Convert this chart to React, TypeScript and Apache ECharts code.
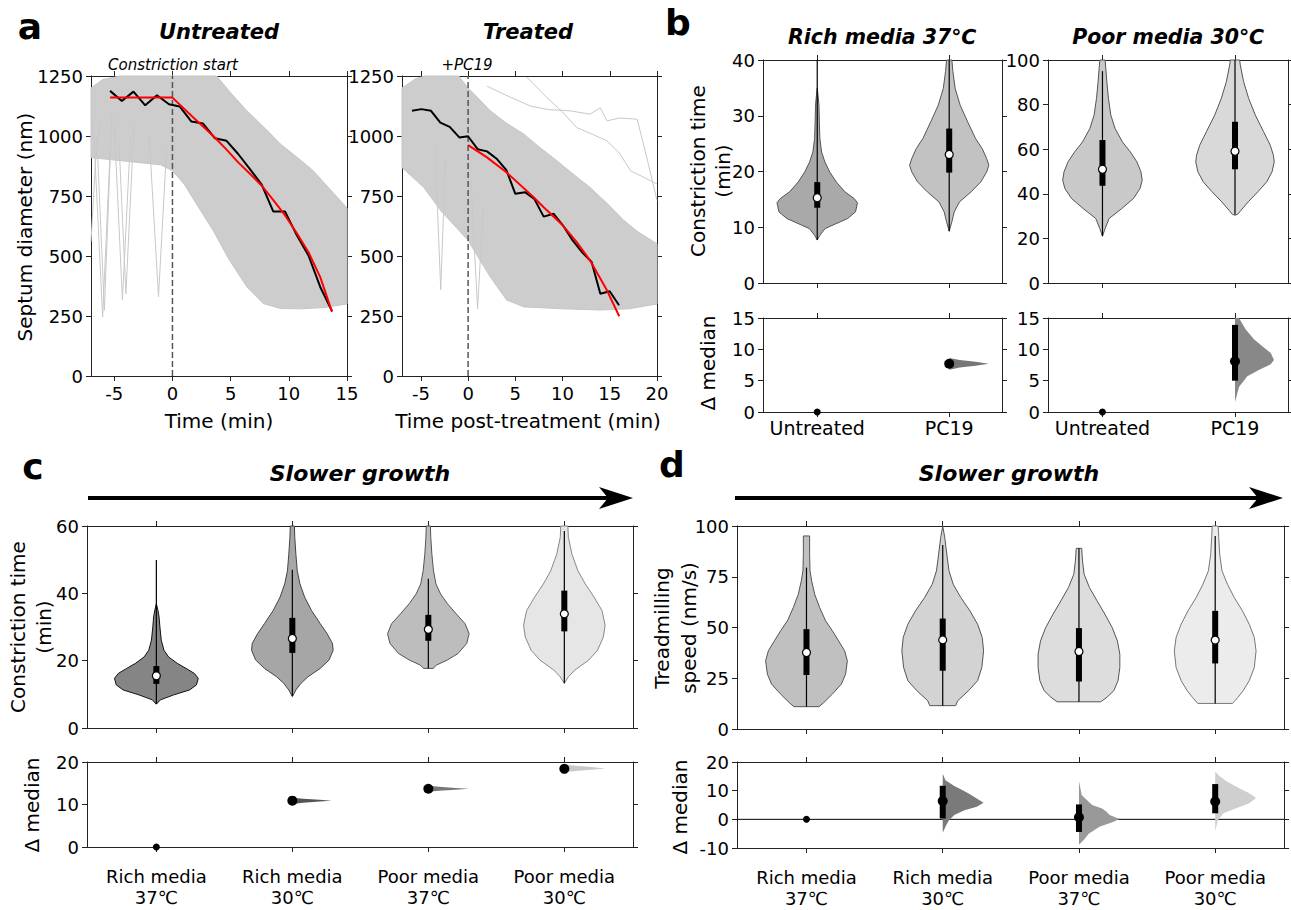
import React, { useEffect, useRef } from "react";
import * as echarts from "echarts";

const FONT = '"DejaVu Sans", Verdana, sans-serif';
const AX = "#222";

// ---------------- Panel a : septum diameter traces ----------------
const aUntreatedBandUpper = [[-7, 1200], [-6, 1235], [-4.5, 1250], [3.8, 1250], [5, 1180], [6.4, 1105], [8, 1030], [9.3, 966], [11, 900], [12.1, 855], [13.5, 780], [15, 700]];
const aUntreatedBandLower = [[-7, 910], [-5, 900], [-3, 890], [-1, 880], [0, 855], [1, 800], [2.06, 717], [3.5, 606], [4.9, 482], [6.4, 371], [7.8, 302], [9.3, 281], [11, 280], [13, 285], [15, 300]];
const aUntreatedOutliers = [
  [[-6.8, 1050], [-6.0, 246], [-5.3, 1000]],
  [[-6.5, 1000], [-5.85, 274], [-5.2, 1100]],
  [[-5.0, 1050], [-4.3, 316], [-3.6, 1000]],
  [[-4.6, 980], [-4.0, 343], [-3.3, 1050]],
  [[-2.0, 1000], [-1.2, 330], [-0.5, 950]],
  [[-7, 560], [-6.6, 900], [-6.2, 1050]],
];
const aUntreatedTime = [-5.36, -4.35, -3.35, -2.34, -1.33, -0.3, 0.62, 1.63, 2.63, 3.64, 4.65, 5.65, 6.66, 7.67, 8.67, 9.68, 10.69, 11.69, 12.7, 13.71];
const aUntreatedDiameter = [1188, 1146, 1185, 1128, 1170, 1132, 1123, 1060, 1052, 991, 980, 925, 862, 797, 685, 685, 586, 502, 371, 271];
const aUntreatedFitTime = [-5.36, 0, 1.63, 2.63, 3.64, 4.65, 5.65, 6.66, 7.67, 8.67, 9.68, 10.69, 11.69, 12.7, 13.71];
const aUntreatedFit = [1160, 1160, 1084, 1040, 994, 943, 890, 843, 793, 733, 669, 595, 516, 412, 267];

const aTreatedBandUpper = [[-7, 1200], [-5.5, 1240], [-4.5, 1250], [-1, 1250], [0, 1200], [1, 1160], [2.35, 1105], [4, 1055], [5.9, 1008], [7.5, 955], [9.4, 897], [11, 845], [12.9, 786], [14.7, 720], [16.5, 648], [18, 600], [20, 551]];
const aTreatedBandLower = [[-7, 869], [-4.7, 786], [-2.9, 689], [0, 565], [2.35, 412], [4.1, 316], [5.9, 288], [10, 280], [14, 275], [17, 280], [20, 300]];
const aTreatedOutliers = [
  [[2.0, 1208], [4, 1170], [6.6, 1125], [8.5, 1110], [10.8, 1105], [12.9, 1091], [14.0, 1118], [14.7, 1063], [16, 1075], [17.9, 1070], [19.0, 897], [20, 731]],
  [[6.2, 1246], [8.35, 1160], [10, 1100], [11.5, 1035], [13, 1010], [14.7, 980], [16, 930], [17.2, 855], [18.5, 830], [20, 800]],
  [[-3.5, 950], [-2.9, 360], [-2.4, 900]],
  [[0.3, 820], [1.0, 280], [1.6, 700]],
];
const aTreatedTime = [-5.94, -4.95, -3.93, -2.94, -1.95, -0.93, -0.01, 1.01, 2.0, 3.06, 4.05, 5.0, 6.02, 7.01, 8.0, 9.06, 10.05, 11.07, 12.06, 13.08, 14.0, 14.99, 15.98];
const aTreatedDiameter = [1105, 1112, 1105, 1056, 1038, 994, 999, 945, 936, 904, 858, 759, 766, 738, 664, 676, 627, 565, 516, 475, 343, 353, 295];
const aTreatedFitTime = [0, 2, 4.05, 6.94, 8, 10.05, 11.5, 12.9, 14.7, 16.0];
const aTreatedFit = [962, 911, 849, 745, 703, 627, 558, 482, 357, 249];

// ---------------- Panel b : constriction time, untreated vs PC19 ----------------
const bCategories = ["Untreated", "PC19"];
const bRichUntreatedProfile = [[7.7, 0], [8.56, 0.02], [9.76, 0.06], [10.4, 0.12], [11.56, 0.23], [12.75, 0.29], [14.4, 0.305], [15.15, 0.28], [16.35, 0.21], [18.1, 0.145], [19.9, 0.095], [21.7, 0.058], [23.5, 0.033], [25.9, 0.02], [28.9, 0.016], [31.9, 0.013], [33.7, 0.006], [35, 0]];
const bRichPC19Profile = [[9.3, 0], [10.96, 0.02], [12.75, 0.038], [14.55, 0.078], [16.35, 0.166], [18.14, 0.24], [19.94, 0.284], [21.1, 0.3], [22.3, 0.284], [24.1, 0.25], [25.9, 0.2], [28.9, 0.14], [31.9, 0.083], [34.9, 0.045], [37.9, 0.028], [40, 0.02]];
// [whisker low, q1, median, q3, whisker high]
const bRichStats = [[7.7, 13.5, 15.3, 18.1, 40], [9.3, 19.8, 23.05, 27.7, 40]];
const bPoorUntreatedProfile = [[21, 0], [24.4, 0.02], [28.9, 0.05], [33.4, 0.146], [37.9, 0.234], [42.4, 0.284], [46.1, 0.3], [49.9, 0.29], [54.3, 0.26], [58.8, 0.21], [63.3, 0.15], [69.3, 0.095], [75.3, 0.063], [82.8, 0.045], [90.3, 0.033], [96.3, 0.025], [100, 0.02]];
const bPoorPC19Profile = [[30.4, 0], [30.8, 0.02], [32.6, 0.045], [36.4, 0.1], [40.9, 0.173], [45.4, 0.24], [49.9, 0.28], [54.3, 0.296], [57.3, 0.29], [61.8, 0.266], [67.8, 0.216], [75.3, 0.153], [82.8, 0.103], [90.3, 0.065], [97.8, 0.04], [100, 0.035]];
const bPoorStats = [[21, 43.6, 51.0, 64.1, 95], [30.7, 51.0, 59.1, 72.3, 100]];
const bRichDeltaMedian = [0, 7.7];
const bRichDeltaCI = [[0, 0], [7.2, 8.3]];
const bRichDeltaProfile = [[6.75, 0], [7.1, 0.08], [7.4, 0.2], [7.7, 0.3], [8.0, 0.2], [8.3, 0.08], [8.6, 0]];
const bPoorDeltaMedian = [0, 8.1];
const bPoorDeltaCI = [[0, 0], [5.0, 13.9]];
const bPoorDeltaProfile = [[1.6, 0], [4.0, 0.03], [5.7, 0.093], [6.7, 0.18], [7.6, 0.27], [8.3, 0.294], [9.4, 0.27], [10.5, 0.206], [11.6, 0.143], [13.2, 0.08], [15, 0.03]];

// ---------------- Panels c & d : growth conditions ----------------
const growthCategories = ["Rich media\n37℃", "Rich media\n30℃", "Poor media\n37℃", "Poor media\n30℃"];
const cProfileRich37 = [[7.08, 0], [8.36, 0.03], [9.84, 0.128], [11.3, 0.244], [12.8, 0.295], [14.75, 0.308], [16.2, 0.28], [17.7, 0.218], [19.2, 0.154], [21.1, 0.09], [23.1, 0.056], [26.1, 0.036], [30, 0.026], [33, 0.02], [34.9, 0.012], [36.9, 0]];
const cProfileRich30 = [[9.3, 0], [11.3, 0.026], [13.3, 0.064], [15.2, 0.115], [17.7, 0.205], [20.2, 0.27], [23.1, 0.3], [25.1, 0.295], [28.0, 0.256], [31.0, 0.205], [34.9, 0.141], [38.9, 0.09], [42.8, 0.056], [46.7, 0.036], [51.6, 0.026], [56.6, 0.018], [60, 0.015]];
const cProfilePoor37 = [[17.7, 0.035], [18.7, 0.06], [20.2, 0.14], [22.1, 0.218], [25.1, 0.282], [28.0, 0.3], [31.0, 0.27], [33.9, 0.205], [36.9, 0.141], [39.8, 0.09], [42.8, 0.056], [46.7, 0.038], [51.6, 0.026], [56.6, 0.018], [60, 0.015]];
const cProfilePoor30 = [[13.3, 0], [15.2, 0.03], [17.2, 0.077], [20.2, 0.18], [23.1, 0.244], [27.0, 0.287], [30.5, 0.3], [34.9, 0.277], [38.9, 0.218], [42.8, 0.154], [46.7, 0.1], [51.6, 0.056], [56.6, 0.03], [60, 0.026]];
const cStats = [[7.1, 13.1, 15.5, 18.4, 49.9], [9.5, 22.3, 26.6, 32.7, 47], [17.7, 25.9, 29.3, 33.6, 44.3], [13.3, 28.7, 33.9, 40.8, 58.5]];
const cDeltaMedian = [0, 10.9, 13.7, 18.4];
const cDeltaCI = [[0, 0], [10.6, 11.2], [13.4, 14.0], [17.9, 19.0]];
const cDeltaRich30 = [[10.1, 0], [10.4, 0.08], [10.7, 0.2], [10.9, 0.29], [11.1, 0.2], [11.35, 0.08], [11.6, 0]];
const cDeltaPoor37 = [[13.0, 0], [13.25, 0.08], [13.5, 0.2], [13.7, 0.3], [13.9, 0.2], [14.15, 0.08], [14.4, 0]];
const cDeltaPoor30 = [[17.6, 0], [17.9, 0.08], [18.2, 0.2], [18.45, 0.3], [18.8, 0.2], [19.1, 0.08], [19.5, 0]];

const dProfileRich37 = [[11.0, 0.092], [13.1, 0.128], [17.2, 0.19], [22.1, 0.256], [27.0, 0.287], [33.6, 0.3], [38.5, 0.28], [43.4, 0.236], [48.4, 0.19], [53.3, 0.14], [59.8, 0.097], [66.4, 0.06], [72.95, 0.038], [77.9, 0.026], [86.1, 0.023], [95.1, 0.023]];
const dProfileRich30 = [[11.5, 0.095], [13.9, 0.11], [18.9, 0.19], [23.8, 0.256], [30.3, 0.287], [38.5, 0.3], [45.1, 0.29], [51.6, 0.256], [58.2, 0.2], [64.75, 0.133], [71.3, 0.077], [77.9, 0.046], [86.1, 0.03], [94.3, 0.015], [100, 0]];
const dProfilePoor37 = [[13.4, 0.16], [15.6, 0.205], [18.9, 0.256], [23.8, 0.287], [30.3, 0.3], [36.9, 0.3], [43.4, 0.282], [50.0, 0.244], [56.6, 0.19], [63.1, 0.133], [69.7, 0.077], [76.2, 0.038], [82.8, 0.026], [89.0, 0.02]];
const dProfilePoor30 = [[12.6, 0.128], [15.6, 0.167], [18.85, 0.205], [23.8, 0.25], [30.3, 0.287], [38.5, 0.3], [45.1, 0.287], [51.6, 0.25], [58.2, 0.2], [64.75, 0.14], [71.3, 0.09], [77.9, 0.05], [86.1, 0.033], [94.3, 0.026], [100, 0.022]];
const dStats = [[11.0, 26.6, 37.7, 49.2, 79.5], [11.5, 28.7, 43.9, 54.4, 90.7], [13.4, 23.4, 38.2, 49.7, 89], [12.6, 32.3, 43.8, 58.2, 95.1]];
const dDeltaMedian = [0, 6.4, 0.7, 6.2];
const dDeltaCI = [[0, 0], [0.3, 11.7], [-4.4, 5.2], [2.1, 12.3]];
const dDeltaRich30 = [[-4.7, 0], [-2.0, 0.026], [-0.3, 0.046], [1.5, 0.085], [3.2, 0.16], [4.4, 0.25], [5.8, 0.3], [7.3, 0.25], [9.1, 0.187], [10.4, 0.136], [11.6, 0.085], [13.6, 0.02], [15.9, 0]];
const dDeltaPoor37 = [[-8.9, 0], [-7.3, 0.033], [-5.0, 0.072], [-2.6, 0.15], [-0.9, 0.25], [0.1, 0.297], [1.5, 0.226], [2.7, 0.2], [3.8, 0.17], [5.0, 0.097], [7.3, 0.046], [8.5, 0.02], [10.9, 0.01], [13.4, 0]];
const dDeltaPoor30 = [[-4.2, 0], [-0.3, 0.02], [2.1, 0.06], [3.8, 0.15], [5.6, 0.25], [7.4, 0.3], [9.1, 0.25], [10.9, 0.174], [13.2, 0.085], [15.0, 0.033], [16.7, 0]];

// ---------------- helpers ----------------
const TICK_FONT = 18;
const NAME_FONT = 20;

function xPair(gi: number, min: number, max: number, ticks: number[], fmt?: (v: number) => string, extra: any = {}) {
  const mk = (pos: string, show: boolean) => ({
    type: "value", gridIndex: gi, min, max, position: pos,
    axisLine: { show: true, onZero: false, lineStyle: { color: AX, width: 1 } },
    axisTick: { show: true, length: 5, customValues: ticks, lineStyle: { color: AX } },
    axisLabel: { show, customValues: ticks, formatter: fmt, fontFamily: FONT, fontSize: TICK_FONT, color: "#000", margin: 8, ...extra },
    splitLine: { show: false },
  });
  return [mk("bottom", !!fmt), mk("top", false)];
}
function yPair(gi: number, min: number, max: number, interval: number) {
  const mk = (pos: string, show: boolean) => ({
    type: "value", gridIndex: gi, min, max, interval, position: pos,
    axisLine: { show: true, onZero: false, lineStyle: { color: AX, width: 1 } },
    axisTick: { show: true, length: 5, lineStyle: { color: AX } },
    axisLabel: { show, formatter: (v: number) => String(v), fontFamily: FONT, fontSize: TICK_FONT, color: "#000", margin: 8 },
    splitLine: { show: false },
  });
  return [mk("left", true), mk("right", false)];
}
function bandSeries(gi: number, upper: number[][], lower: number[][]) {
  const pts = upper.concat(lower.slice().reverse());
  return {
    type: "custom", xAxisIndex: 2 * gi, yAxisIndex: 2 * gi, z: 1, silent: true,
    data: [[0, 600]],
    renderItem: (_p: any, api: any) => ({
      type: "polygon",
      shape: { points: pts.map((p) => api.coord(p)) },
      style: { fill: "#cdcdcd", stroke: "#c6c6c6", lineWidth: 1 },
    }),
  };
}
function lineSeries(gi: number, data: number[][], color: string, width: number, z: number, type = "solid") {
  return {
    type: "line", xAxisIndex: 2 * gi, yAxisIndex: 2 * gi, data, symbol: "none", silent: true, z,
    lineStyle: { color, width, type }, animation: false,
  };
}
function violinSeries(gi: number, profiles: number[][][], stats: number[][], fills: string[], strokes: string[]) {
  return {
    type: "custom", xAxisIndex: 2 * gi, yAxisIndex: 2 * gi, z: 3, silent: true,
    data: stats.map((s, i) => [i, s[2]]),
    renderItem: (params: any, api: any) => {
      const i = params.dataIndex;
      const prof = profiles[i];
      const left = prof.map(([y, w]) => api.coord([i - w, y]));
      const right = prof.slice().reverse().map(([y, w]) => api.coord([i + w, y]));
      const s = stats[i];
      const lo = api.coord([i, s[0]]), q1 = api.coord([i, s[1]]), med = api.coord([i, s[2]]), q3 = api.coord([i, s[3]]), hi = api.coord([i, s[4]]);
      return {
        type: "group",
        children: [
          { type: "polygon", shape: { points: left.concat(right) }, style: { fill: fills[i], stroke: strokes[i], lineWidth: 1 } },
          { type: "line", shape: { x1: lo[0], y1: lo[1], x2: hi[0], y2: hi[1] }, style: { stroke: "#000", lineWidth: 1.2 } },
          { type: "line", shape: { x1: q1[0], y1: q1[1], x2: q3[0], y2: q3[1] }, style: { stroke: "#000", lineWidth: 6 } },
          { type: "circle", shape: { cx: med[0], cy: med[1], r: 4 }, style: { fill: "#fff", stroke: "#000", lineWidth: 1.2 } },
        ],
      };
    },
  };
}
function deltaSeries(gi: number, profiles: (number[][] | null)[], medians: number[], cis: number[][], fills: string[]) {
  return {
    type: "custom", xAxisIndex: 2 * gi, yAxisIndex: 2 * gi, z: 3, silent: true,
    data: medians.map((m, i) => [i, m]),
    renderItem: (params: any, api: any) => {
      const i = params.dataIndex;
      const prof = profiles[i];
      const m = api.coord([i, medians[i]]);
      if (!prof) {
        return { type: "circle", shape: { cx: m[0], cy: m[1], r: 3.5 }, style: { fill: "#000" } };
      }
      const pts = prof.map(([y, w]) => api.coord([i + w, y]));
      pts.push(api.coord([i, prof[prof.length - 1][0]]));
      pts.push(api.coord([i, prof[0][0]]));
      const c0 = api.coord([i, cis[i][0]]), c1 = api.coord([i, cis[i][1]]);
      return {
        type: "group",
        children: [
          { type: "polygon", shape: { points: pts }, style: { fill: fills[i] } },
          { type: "line", shape: { x1: c0[0], y1: c0[1], x2: c1[0], y2: c1[1] }, style: { stroke: "#000", lineWidth: 6 } },
          { type: "circle", shape: { cx: m[0], cy: m[1], r: 5 }, style: { fill: "#000" } },
        ],
      };
    },
  };
}
function txt(text: string, x: number, y: number, size: number, opts: any = {}) {
  const { rotation, ...style } = opts;
  return {
    type: "text", x, y, rotation: rotation || 0, silent: true,
    style: { text, fontFamily: FONT, fontSize: size, fill: "#000", align: "center", verticalAlign: "middle", ...style },
  };
}
function arrow(x1: number, x2: number, y: number) {
  return [
    { type: "line", shape: { x1, y1: y, x2: x2 - 20, y2: y }, style: { stroke: "#000", lineWidth: 4 } },
    { type: "polygon", shape: { points: [[x2 - 34, y - 11], [x2, y], [x2 - 34, y + 11], [x2 - 25, y]] }, style: { fill: "#000" } },
  ];
}

function buildOption() {
  const grids = [
    { left: 91, top: 76, width: 256, height: 300 },
    { left: 402, top: 76, width: 255, height: 300 },
    { left: 763, top: 60, width: 239, height: 223 },
    { left: 763, top: 318, width: 239, height: 94 },
    { left: 1048, top: 60, width: 240, height: 223 },
    { left: 1048, top: 318, width: 240, height: 94 },
    { left: 87, top: 526, width: 546, height: 202 },
    { left: 87, top: 762, width: 546, height: 85 },
    { left: 737, top: 526, width: 547, height: 203 },
    { left: 737, top: 762, width: 547, height: 86 },
  ];
  const num = (v: number) => String(v);
  const bName = (v: number) => bCategories[Math.round(v)];
  const gName = (v: number) => growthCategories[Math.round(v)];
  const gTicks = [0, 1, 2, 3];
  const xAxis = [
    ...xPair(0, -7, 15, [-5, 0, 5, 10, 15], num),
    ...xPair(1, -7, 20, [-5, 0, 5, 10, 15, 20], num),
    ...xPair(2, -0.411, 1.4, [0, 1]),
    ...xPair(3, -0.411, 1.4, [0, 1], bName, { fontSize: 19, margin: 6 }),
    ...xPair(4, -0.411, 1.4, [0, 1]),
    ...xPair(5, -0.411, 1.4, [0, 1], bName, { fontSize: 19, margin: 6 }),
    ...xPair(6, -0.51, 3.505, gTicks),
    ...xPair(7, -0.51, 3.505, gTicks, gName, { fontSize: 18, margin: 19, lineHeight: 21 }),
    ...xPair(8, -0.51, 3.505, gTicks),
    ...xPair(9, -0.51, 3.505, gTicks, gName, { fontSize: 18, margin: 19, lineHeight: 21 }),
  ];
  const yAxis = [
    ...yPair(0, 0, 1250, 250),
    ...yPair(1, 0, 1250, 250),
    ...yPair(2, 0, 40, 10),
    ...yPair(3, 0, 15, 5),
    ...yPair(4, 0, 100, 20),
    ...yPair(5, 0, 15, 5),
    ...yPair(6, 0, 60, 20),
    ...yPair(7, 0, 20, 10),
    ...yPair(8, 0, 100, 25),
    ...yPair(9, -10, 20, 10),
  ];
  const zip = (xs: number[], ys: number[]) => xs.map((x, i) => [x, ys[i]]);
  const series: any[] = [
    bandSeries(0, aUntreatedBandUpper, aUntreatedBandLower),
    ...aUntreatedOutliers.map((d) => lineSeries(0, d, "#c8c8c8", 1, 2)),
    lineSeries(0, [[0, 0], [0, 1250]], "#555", 1.5, 4, "dashed"),
    lineSeries(0, zip(aUntreatedTime, aUntreatedDiameter), "#000", 2, 5),
    lineSeries(0, zip(aUntreatedFitTime, aUntreatedFit), "#ff0000", 2, 6),
    bandSeries(1, aTreatedBandUpper, aTreatedBandLower),
    ...aTreatedOutliers.map((d) => lineSeries(1, d, "#c8c8c8", 1, 2)),
    lineSeries(1, [[0, 0], [0, 1250]], "#555", 1.5, 4, "dashed"),
    lineSeries(1, zip(aTreatedTime, aTreatedDiameter), "#000", 2, 5),
    lineSeries(1, zip(aTreatedFitTime, aTreatedFit), "#ff0000", 2, 6),
    violinSeries(2, [bRichUntreatedProfile, bRichPC19Profile], bRichStats, ["#a9a9a9", "#c2c2c2"], ["#555", "#555"]),
    deltaSeries(3, [null, bRichDeltaProfile], bRichDeltaMedian, bRichDeltaCI, ["#000", "#777"]),
    violinSeries(4, [bPoorUntreatedProfile, bPoorPC19Profile], bPoorStats, ["#c9c9c9", "#d9d9d9"], ["#555", "#555"]),
    deltaSeries(5, [null, bPoorDeltaProfile], bPoorDeltaMedian, bPoorDeltaCI, ["#000", "#888"]),
    violinSeries(6, [cProfileRich37, cProfileRich30, cProfilePoor37, cProfilePoor30], cStats, ["#858585", "#a6a6a6", "#bdbdbd", "#e6e6e6"], ["#111", "#444", "#555", "#888"]),
    deltaSeries(7, [null, cDeltaRich30, cDeltaPoor37, cDeltaPoor30], cDeltaMedian, cDeltaCI, ["#000", "#555", "#777", "#c8c8c8"]),
    violinSeries(8, [dProfileRich37, dProfileRich30, dProfilePoor37, dProfilePoor30], dStats, ["#c0c0c0", "#d3d3d3", "#dddddd", "#ececec"], ["#555", "#555", "#555", "#777"]),
    lineSeries(9, [[-0.51, 0], [3.505, 0]], "#000", 1, 2),
    deltaSeries(9, [null, dDeltaRich30, dDeltaPoor37, dDeltaPoor30], dDeltaMedian, dDeltaCI, ["#000", "#7a7a7a", "#999", "#cfcfcf"]),
  ];
  const bi = { fontWeight: "bold", fontStyle: "italic" };
  const rot = { rotation: Math.PI / 2 };
  const graphic = [
    txt("a", 30, 26, 36, { fontWeight: "bold" }),
    txt("b", 678, 22, 36, { fontWeight: "bold" }),
    txt("c", 33, 466, 36, { fontWeight: "bold" }),
    txt("d", 672, 464, 36, { fontWeight: "bold" }),
    txt("Untreated", 219, 32, 21, bi),
    txt("Treated", 528, 32, 21, bi),
    txt("Rich media 37℃", 882, 37, 20.5, bi),
    txt("Poor media 30℃", 1168, 37, 20.5, bi),
    txt("Slower growth", 360, 473, 22, bi),
    txt("Slower growth", 1009, 473, 22, bi),
    txt("Constriction start", 173, 65, 15, { fontStyle: "italic" }),
    txt("+PC19", 467, 65, 15, { fontStyle: "italic" }),
    txt("Septum diameter (nm)", 25, 227, NAME_FONT, rot),
    txt("Time (min)", 219, 421, NAME_FONT),
    txt("Time post-treatment (min)", 528, 421, NAME_FONT),
    txt("Constriction time", 698, 171, NAME_FONT, rot),
    txt("(min)", 723, 171, NAME_FONT, rot),
    txt("Δ median", 708, 363, NAME_FONT, rot),
    txt("Constriction time", 18, 627, NAME_FONT, rot),
    txt("(min)", 44, 627, NAME_FONT, rot),
    txt("Δ median", 32, 805, NAME_FONT, rot),
    txt("Treadmilling", 662, 628, NAME_FONT, rot),
    txt("speed (nm/s)", 689, 628, NAME_FONT, rot),
    txt("Δ median", 680, 807, NAME_FONT, rot),
    ...arrow(88, 633, 498),
    ...arrow(735, 1283, 498),
  ];
  return { animation: false, backgroundColor: "#fff", grid: grids, xAxis, yAxis, series, graphic };
}

export default function App() {
  const ref = useRef<HTMLDivElement>(null);
  useEffect(() => {
    const chart = echarts.init(ref.current!, null, { renderer: "svg" });
    chart.setOption(buildOption() as any);
    return () => chart.dispose();
  }, []);
  return <div ref={ref} style={{ position: "absolute", left: 0, top: 0, width: 1291, height: 910, background: "#fff" }} />;
}
